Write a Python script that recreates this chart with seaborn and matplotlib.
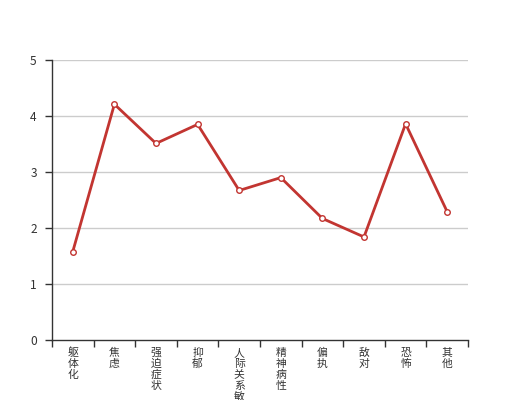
import matplotlib
matplotlib.use("Agg")
import matplotlib.pyplot as plt
import seaborn as sns
import pandas as pd
import numpy as np

# SCL-90 factor scores
categories = ["躯体化", "焦虑", "强迫症状", "抑郁", "人际关系敏感",
              "精神病性", "偏执", "敌对", "恐怖", "其他"]
scores = [1.58, 4.21, 3.51, 3.85, 2.67, 2.90, 2.17, 1.84, 3.86, 2.29]
y_ticks = [0, 1, 2, 3, 4, 5]

sns.set_theme(style="white")
plt.rcParams['font.family'] = ['Noto Sans CJK SC', 'DejaVu Sans']

df = pd.DataFrame({"factor": categories, "score": scores})
df["pos"] = np.arange(len(categories))

fig = plt.figure(figsize=(5.2, 4.0), dpi=100)
ax = fig.add_axes([0.1, 0.15, 0.8, 0.7])

sns.lineplot(data=df, x="pos", y="score", ax=ax, color="#c23531",
             linewidth=2, marker="o", markersize=4,
             markerfacecolor="white", markeredgecolor="#c23531",
             markeredgewidth=1, zorder=3)

ax.set_xlim(-0.5, len(categories) - 0.5)
ax.set_ylim(0, 5)
ax.set_yticks(y_ticks)
ax.set_yticklabels([str(t) for t in y_ticks])

# ticks at the category boundaries
ax.set_xticks(np.arange(len(categories) + 1) - 0.5)
ax.set_xticklabels([])
ax.tick_params(axis="x", which="major", length=5, width=1, color="#333333",
               direction="out", bottom=True)
ax.tick_params(axis="y", length=5, width=1, color="#333333", direction="out",
               left=True, labelsize=8.6, labelcolor="#333333", pad=6)

# vertical category labels, one character per line (px -> pt is 0.72)
for i, name in enumerate(categories):
    for k, ch in enumerate(name):
        ax.annotate(ch, xy=(i, 0), xycoords=("data", "axes fraction"),
                    xytext=(0, -(13 + 11 * k) * 0.72),
                    textcoords="offset points", ha="center", va="center",
                    fontsize=7.8, color="#333333", annotation_clip=False)

for y in y_ticks[1:]:
    ax.axhline(y, color="#cccccc", linewidth=1, zorder=1)

for side in ["top", "right"]:
    ax.spines[side].set_visible(False)
for side in ["left", "bottom"]:
    ax.spines[side].set_color("#333333")
    ax.spines[side].set_linewidth(1)

ax.set_xlabel("")
ax.set_ylabel("")

fig.savefig("out.png", dpi=100)
